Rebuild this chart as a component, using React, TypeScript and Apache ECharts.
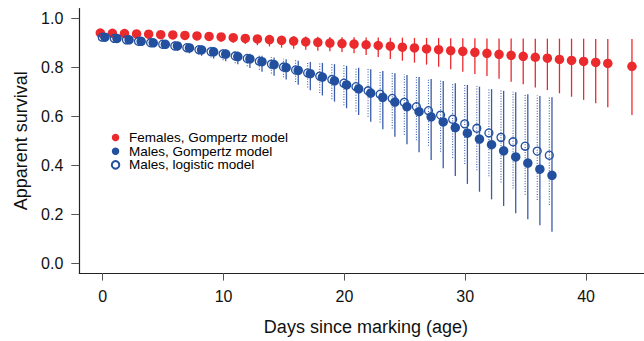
import React, { useEffect, useRef } from 'react';
import * as echarts from 'echarts';

// ---- Data ----
const xTicks = [0, 10, 20, 30, 40];
const yTicks = [0, 0.2, 0.4, 0.6, 0.8, 1.0];

const femaleAge = [0, 1, 2, 3, 4, 5, 6, 7, 8, 9, 10, 11, 12, 13, 14, 15, 16, 17, 18, 19, 20, 21, 22, 23, 24, 25, 26, 27, 28, 29, 30, 31, 32, 33, 34, 35, 36, 37, 38, 39, 40, 41, 42, 44];
const femaleSurv = [0.940, 0.939, 0.938, 0.936, 0.935, 0.933, 0.932, 0.930, 0.928, 0.926, 0.924, 0.921, 0.918, 0.916, 0.913, 0.910, 0.907, 0.904, 0.902, 0.899, 0.897, 0.895, 0.892, 0.889, 0.886, 0.882, 0.879, 0.875, 0.872, 0.868, 0.865, 0.861, 0.857, 0.853, 0.849, 0.845, 0.841, 0.837, 0.832, 0.828, 0.824, 0.820, 0.816, 0.804];
const femaleLo = [0.928, 0.927, 0.925, 0.923, 0.921, 0.919, 0.917, 0.914, 0.911, 0.908, 0.904, 0.900, 0.895, 0.890, 0.885, 0.880, 0.876, 0.872, 0.868, 0.866, 0.862, 0.857, 0.850, 0.842, 0.834, 0.827, 0.819, 0.811, 0.802, 0.792, 0.782, 0.773, 0.764, 0.753, 0.741, 0.731, 0.718, 0.707, 0.694, 0.680, 0.667, 0.653, 0.637, 0.605];
const femaleHi = [0.950, 0.949, 0.948, 0.946, 0.945, 0.943, 0.942, 0.940, 0.939, 0.937, 0.936, 0.934, 0.933, 0.931, 0.930, 0.928, 0.927, 0.926, 0.925, 0.924, 0.923, 0.923, 0.922, 0.922, 0.921, 0.921, 0.920, 0.920, 0.920, 0.919, 0.919, 0.919, 0.918, 0.918, 0.918, 0.918, 0.917, 0.917, 0.917, 0.917, 0.917, 0.916, 0.916, 0.916];

const maleAge = [0, 1, 2, 3, 4, 5, 6, 7, 8, 9, 10, 11, 12, 13, 14, 15, 16, 17, 18, 19, 20, 21, 22, 23, 24, 25, 26, 27, 28, 29, 30, 31, 32, 33, 34, 35, 36, 37];
const maleGompSurv = [0.923, 0.918, 0.912, 0.906, 0.900, 0.894, 0.887, 0.879, 0.871, 0.863, 0.854, 0.844, 0.834, 0.823, 0.811, 0.799, 0.787, 0.774, 0.760, 0.745, 0.728, 0.712, 0.695, 0.677, 0.658, 0.639, 0.619, 0.598, 0.577, 0.554, 0.531, 0.507, 0.484, 0.459, 0.434, 0.409, 0.384, 0.359];
const maleGompLo = [0.910, 0.905, 0.898, 0.891, 0.884, 0.876, 0.867, 0.857, 0.847, 0.836, 0.825, 0.812, 0.797, 0.782, 0.766, 0.750, 0.729, 0.706, 0.685, 0.660, 0.633, 0.605, 0.578, 0.547, 0.517, 0.486, 0.453, 0.422, 0.388, 0.356, 0.324, 0.292, 0.261, 0.234, 0.204, 0.180, 0.155, 0.129];
const maleGompHi = [0.935, 0.930, 0.925, 0.920, 0.915, 0.910, 0.904, 0.897, 0.890, 0.882, 0.873, 0.864, 0.855, 0.847, 0.840, 0.833, 0.827, 0.822, 0.818, 0.813, 0.806, 0.798, 0.792, 0.785, 0.776, 0.769, 0.760, 0.752, 0.744, 0.735, 0.728, 0.721, 0.711, 0.704, 0.698, 0.690, 0.683, 0.678];

const maleLogSurv = [0.923, 0.918, 0.912, 0.906, 0.900, 0.894, 0.887, 0.880, 0.872, 0.864, 0.855, 0.846, 0.836, 0.825, 0.813, 0.801, 0.789, 0.777, 0.764, 0.750, 0.735, 0.721, 0.704, 0.690, 0.673, 0.657, 0.639, 0.623, 0.605, 0.588, 0.569, 0.551, 0.532, 0.514, 0.496, 0.478, 0.458, 0.441];
const maleLogLo = [0.910, 0.905, 0.899, 0.893, 0.886, 0.878, 0.870, 0.861, 0.851, 0.840, 0.829, 0.817, 0.804, 0.790, 0.775, 0.759, 0.740, 0.718, 0.695, 0.670, 0.645, 0.620, 0.598, 0.575, 0.550, 0.525, 0.502, 0.480, 0.455, 0.430, 0.405, 0.380, 0.355, 0.330, 0.305, 0.280, 0.258, 0.238];
const maleLogHi = [0.937, 0.932, 0.927, 0.922, 0.917, 0.912, 0.906, 0.899, 0.892, 0.884, 0.875, 0.866, 0.857, 0.849, 0.842, 0.835, 0.829, 0.824, 0.820, 0.815, 0.808, 0.800, 0.794, 0.787, 0.778, 0.771, 0.762, 0.754, 0.746, 0.737, 0.730, 0.723, 0.713, 0.706, 0.700, 0.692, 0.685, 0.680];

const legendNames = ['Females, Gompertz model', 'Males, Gompertz model', 'Males, logistic model'];

// ---- Styling / layout ----
const FONT = "'Liberation Sans', Arial, Helvetica, sans-serif";
const RED = '#eb2a2e';
const BLUE = '#22509f';
const DODGE_FEMALE = -0.2;
const DODGE_LOGISTIC = -0.04;
const DODGE_GOMPERTZ = 0.18;

export default function App() {
  const ref = useRef<HTMLDivElement>(null);

  useEffect(() => {
    if (!ref.current) return;
    const chart = echarts.init(ref.current, null, { renderer: 'svg' });

    const pts = (ages: number[], vals: number[], dx: number) => ages.map((a, i) => [a + dx, vals[i]]);
    const bars = (ages: number[], lo: number[], hi: number[], dx: number) => ages.map((a, i) => [a + dx, lo[i], hi[i]]);
    const errRender = (style: any) => (_params: any, api: any) => {
      const p1 = api.coord([api.value(0), api.value(1)]);
      const p2 = api.coord([api.value(0), api.value(2)]);
      return {
        type: 'line',
        shape: { x1: p1[0], y1: p1[1], x2: p2[0], y2: p2[1] },
        style,
      };
    };

    chart.setOption({
      animation: false,
      textStyle: { fontFamily: FONT },
      grid: { left: 79.3, right: -8.5, top: 8.5, bottom: 67.9, outerBoundsMode: 'none' },
      legend: {
        orient: 'vertical',
        left: 105.8,
        top: 125.5,
        data: legendNames,
        icon: 'circle',
        itemWidth: 17,
        itemHeight: 7.5,
        itemGap: -0.3,
        selectedMode: false,
        textStyle: { fontSize: 13.5, color: '#000', fontFamily: FONT },
      },
      xAxis: {
        type: 'value',
        min: -1.94,
        max: 45.5,
        splitLine: { show: false },
        axisLine: { show: true, onZero: false, lineStyle: { color: '#222', width: 1.2 } },
        axisTick: { show: true, length: 7.5, lineStyle: { color: '#555', width: 1 }, customValues: xTicks },
        axisLabel: { customValues: xTicks, fontSize: 16, color: '#111', margin: 15, fontFamily: FONT },
        name: 'Days since marking (age)',
        nameLocation: 'middle',
        nameGap: 45,
        nameTextStyle: { fontSize: 18, color: '#111', fontFamily: FONT },
      },
      yAxis: {
        type: 'value',
        min: -0.04,
        max: 1.04,
        splitLine: { show: false },
        axisLine: { show: true, onZero: false, lineStyle: { color: '#222', width: 1.2 } },
        axisTick: { show: true, length: 8, lineStyle: { color: '#555', width: 1 }, customValues: yTicks },
        axisLabel: {
          customValues: yTicks,
          fontSize: 16,
          color: '#111',
          margin: 16,
          fontFamily: FONT,
          formatter: (v: number) => v.toFixed(1),
        },
        name: 'Apparent survival',
        nameLocation: 'middle',
        nameGap: 48,
        nameTextStyle: { fontSize: 18, color: '#111', fontFamily: FONT },
      },
      series: [
        {
          type: 'custom',
          name: 'Females CI',
          data: bars(femaleAge, femaleLo, femaleHi, DODGE_FEMALE),
          encode: { x: 0, y: [1, 2] },
          renderItem: errRender({ stroke: RED, lineWidth: 1.3 }),
          silent: true,
        },
        {
          type: 'scatter',
          name: legendNames[0],
          data: pts(femaleAge, femaleSurv, DODGE_FEMALE),
          symbol: 'circle',
          symbolSize: 9.5,
          itemStyle: { color: RED, opacity: 1 },
          emphasis: { disabled: true },
        },
        {
          type: 'custom',
          name: 'Males logistic CI',
          data: bars(maleAge, maleLogLo, maleLogHi, DODGE_LOGISTIC),
          encode: { x: 0, y: [1, 2] },
          renderItem: errRender({ stroke: '#3a5eae', lineWidth: 1.1, lineDash: [1, 1.6] }),
          silent: true,
        },
        {
          type: 'scatter',
          name: legendNames[2],
          data: pts(maleAge, maleLogSurv, DODGE_LOGISTIC),
          symbol: 'circle',
          symbolSize: 8,
          itemStyle: { color: 'rgba(255,255,255,0)', borderColor: BLUE, borderWidth: 1.3, opacity: 1 },
          emphasis: { disabled: true },
        },
        {
          type: 'custom',
          name: 'Males Gompertz CI',
          data: bars(maleAge, maleGompLo, maleGompHi, DODGE_GOMPERTZ),
          encode: { x: 0, y: [1, 2] },
          renderItem: errRender({ stroke: '#3a5caa', lineWidth: 1.3 }),
          silent: true,
        },
        {
          type: 'scatter',
          name: legendNames[1],
          data: pts(maleAge, maleGompSurv, DODGE_GOMPERTZ),
          symbol: 'circle',
          symbolSize: 9.5,
          itemStyle: { color: BLUE, opacity: 1 },
          emphasis: { disabled: true },
        },
      ],
    });

    return () => chart.dispose();
  }, []);

  return (
    <div
      ref={ref}
      style={{ position: 'fixed', left: 0, top: 0, width: 644, height: 341, background: '#fff' }}
    />
  );
}
